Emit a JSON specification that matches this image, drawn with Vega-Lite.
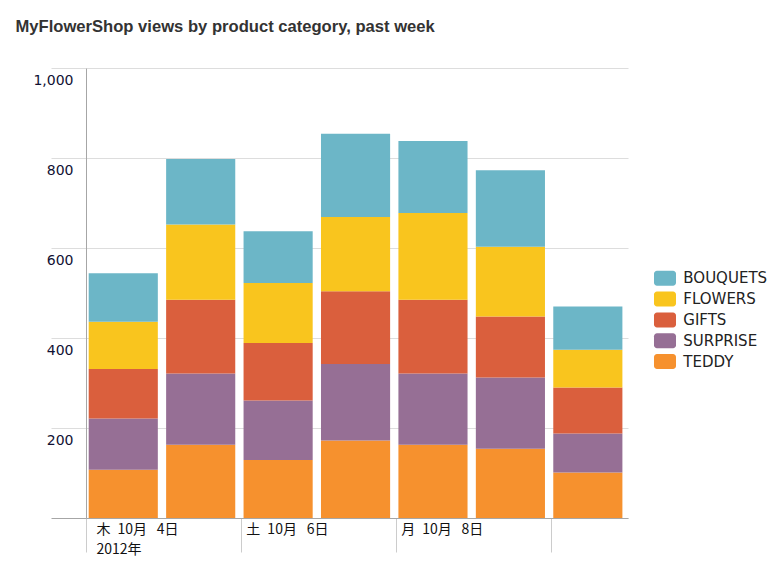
{
  "$schema": "https://vega.github.io/schema/vega-lite/v6.json",
  "width": 542,
  "height": 450,
  "autosize": {"type": "none"},
  "padding": {"left": 86, "top": 68, "right": 143, "bottom": 47},
  "background": "white",
  "title": {
    "text": "MyFlowerShop views by product category, past week",
    "anchor": "start",
    "frame": "group",
    "font": "Liberation Sans",
    "fontSize": 16.6,
    "fontWeight": "bold",
    "color": "#333333",
    "baseline": "alphabetic",
    "offset": 19,
    "dx": -70.5
  },
  "data": {
    "values": [
      {"day": "2012-10-04T00:00:00", "end": "2012-10-05T00:00:00", "cat": "TEDDY", "views": 107},
      {"day": "2012-10-04T00:00:00", "end": "2012-10-05T00:00:00", "cat": "SURPRISE", "views": 114},
      {"day": "2012-10-04T00:00:00", "end": "2012-10-05T00:00:00", "cat": "GIFTS", "views": 110},
      {"day": "2012-10-04T00:00:00", "end": "2012-10-05T00:00:00", "cat": "FLOWERS", "views": 105},
      {"day": "2012-10-04T00:00:00", "end": "2012-10-05T00:00:00", "cat": "BOUQUETS", "views": 108},
      {"day": "2012-10-05T00:00:00", "end": "2012-10-06T00:00:00", "cat": "TEDDY", "views": 163},
      {"day": "2012-10-05T00:00:00", "end": "2012-10-06T00:00:00", "cat": "SURPRISE", "views": 158},
      {"day": "2012-10-05T00:00:00", "end": "2012-10-06T00:00:00", "cat": "GIFTS", "views": 164},
      {"day": "2012-10-05T00:00:00", "end": "2012-10-06T00:00:00", "cat": "FLOWERS", "views": 167},
      {"day": "2012-10-05T00:00:00", "end": "2012-10-06T00:00:00", "cat": "BOUQUETS", "views": 146},
      {"day": "2012-10-06T00:00:00", "end": "2012-10-07T00:00:00", "cat": "TEDDY", "views": 129},
      {"day": "2012-10-06T00:00:00", "end": "2012-10-07T00:00:00", "cat": "SURPRISE", "views": 132},
      {"day": "2012-10-06T00:00:00", "end": "2012-10-07T00:00:00", "cat": "GIFTS", "views": 128},
      {"day": "2012-10-06T00:00:00", "end": "2012-10-07T00:00:00", "cat": "FLOWERS", "views": 133},
      {"day": "2012-10-06T00:00:00", "end": "2012-10-07T00:00:00", "cat": "BOUQUETS", "views": 115},
      {"day": "2012-10-07T00:00:00", "end": "2012-10-08T00:00:00", "cat": "TEDDY", "views": 172},
      {"day": "2012-10-07T00:00:00", "end": "2012-10-08T00:00:00", "cat": "SURPRISE", "views": 170},
      {"day": "2012-10-07T00:00:00", "end": "2012-10-08T00:00:00", "cat": "GIFTS", "views": 162},
      {"day": "2012-10-07T00:00:00", "end": "2012-10-08T00:00:00", "cat": "FLOWERS", "views": 165},
      {"day": "2012-10-07T00:00:00", "end": "2012-10-08T00:00:00", "cat": "BOUQUETS", "views": 185},
      {"day": "2012-10-08T00:00:00", "end": "2012-10-09T00:00:00", "cat": "TEDDY", "views": 163},
      {"day": "2012-10-08T00:00:00", "end": "2012-10-09T00:00:00", "cat": "SURPRISE", "views": 158},
      {"day": "2012-10-08T00:00:00", "end": "2012-10-09T00:00:00", "cat": "GIFTS", "views": 164},
      {"day": "2012-10-08T00:00:00", "end": "2012-10-09T00:00:00", "cat": "FLOWERS", "views": 193},
      {"day": "2012-10-08T00:00:00", "end": "2012-10-09T00:00:00", "cat": "BOUQUETS", "views": 160},
      {"day": "2012-10-09T00:00:00", "end": "2012-10-10T00:00:00", "cat": "TEDDY", "views": 154},
      {"day": "2012-10-09T00:00:00", "end": "2012-10-10T00:00:00", "cat": "SURPRISE", "views": 158},
      {"day": "2012-10-09T00:00:00", "end": "2012-10-10T00:00:00", "cat": "GIFTS", "views": 136},
      {"day": "2012-10-09T00:00:00", "end": "2012-10-10T00:00:00", "cat": "FLOWERS", "views": 155},
      {"day": "2012-10-09T00:00:00", "end": "2012-10-10T00:00:00", "cat": "BOUQUETS", "views": 170},
      {"day": "2012-10-10T00:00:00", "end": "2012-10-11T00:00:00", "cat": "TEDDY", "views": 101},
      {"day": "2012-10-10T00:00:00", "end": "2012-10-11T00:00:00", "cat": "SURPRISE", "views": 87},
      {"day": "2012-10-10T00:00:00", "end": "2012-10-11T00:00:00", "cat": "GIFTS", "views": 102},
      {"day": "2012-10-10T00:00:00", "end": "2012-10-11T00:00:00", "cat": "FLOWERS", "views": 84},
      {"day": "2012-10-10T00:00:00", "end": "2012-10-11T00:00:00", "cat": "BOUQUETS", "views": 96}
    ]
  },
  "mark": {"type": "bar", "orient": "vertical", "xOffset": 2.7, "x2Offset": -5.6, "stroke": null},
  "encoding": {
    "x": {
      "field": "day",
      "type": "temporal",
      "scale": {
        "domain": [
          {"year": 2012, "month": 10, "date": 4},
          {"year": 2012, "month": 10, "date": 11}
        ],
        "nice": false,
        "padding": 0
      },
      "axis": {
        "title": null,
        "values": [
          {"year": 2012, "month": 10, "date": 4},
          {"year": 2012, "month": 10, "date": 6},
          {"year": 2012, "month": 10, "date": 8},
          {"year": 2012, "month": 10, "date": 10}
        ],
        "grid": false,
        "domainColor": "#a6a6a6",
        "ticks": true,
        "tickSize": 34,
        "tickColor": "#cccccc",
        "labelFont": "Noto Sans CJK JP",
        "labelFontSize": 14,
        "labelColor": "#111111",
        "labelAlign": "left",
        "labelBaseline": "top",
        "labelPadding": -30,
        "labelOffset": {"condition": {"test": "date(datum.value) == 4", "value": 10}, "value": 5},
        "labelLineHeight": 20,
        "labelFlush": false,
        "labelOverlap": false,
        "labelBound": false,
        "labelExpr": "date(datum.value) == 10 ? '' : (date(datum.value) == 4 ? [['日','月','火','水','木','金','土'][day(datum.value)] + '\u2002' + (month(datum.value) + 1) + '月\u2002\u2009' + date(datum.value) + '日', year(datum.value) + '年'] : ['日','月','火','水','木','金','土'][day(datum.value)] + '\u2002' + (month(datum.value) + 1) + '月\u2002\u2009' + date(datum.value) + '日')"
      }
    },
    "x2": {"field": "end"},
    "y": {
      "field": "views",
      "type": "quantitative",
      "stack": "zero",
      "scale": {"domain": [0, 1000], "nice": false},
      "axis": {
        "title": null,
        "values": [0, 200, 400, 600, 800, 1000],
        "format": ",d",
        "grid": true,
        "gridColor": "#dddddd",
        "domainColor": "#a6a6a6",
        "tickSize": 35,
        "tickColor": {"condition": {"test": "datum.value == 0", "value": "#a6a6a6"}, "value": "#dddddd"},
        "labelFont": "DejaVu Sans",
        "labelFontSize": 14,
        "labelColor": "#111133",
        "labelPadding": -22,
        "labelBaseline": "middle",
        "labelOffset": 12,
        "labelBound": false,
        "labelOverlap": false,
        "labelExpr": "datum.value == 0 ? '' : datum.label"
      }
    },
    "color": {
      "field": "cat",
      "type": "nominal",
      "scale": {
        "domain": ["BOUQUETS", "FLOWERS", "GIFTS", "SURPRISE", "TEDDY"],
        "range": ["#6cb6c7", "#f9c51e", "#da5f3d", "#966f95", "#f6912e"]
      },
      "legend": {
        "title": null,
        "orient": "none",
        "legendX": 571.5,
        "legendY": 202.8,
        "padding": 0,
        "symbolType": "M-1.067,-1 H1.067 A0.4,0.4 0 0 1 1.467,-0.6 V0.6 A0.4,0.4 0 0 1 1.067,1 H-1.067 A0.4,0.4 0 0 1 -1.467,0.6 V-0.6 A0.4,0.4 0 0 1 -1.067,-1 Z",
        "symbolSize": 225,
        "symbolStrokeWidth": 0,
        "symbolOpacity": 1,
        "labelFont": "DejaVu Sans",
        "labelFontSize": 15,
        "labelColor": "#222222",
        "labelOffset": 10.8,
        "rowPadding": 4.8
      }
    },
    "order": {"field": "cat", "type": "ordinal", "sort": "descending"}
  },
  "config": {
    "view": {"stroke": null}
  }
}
